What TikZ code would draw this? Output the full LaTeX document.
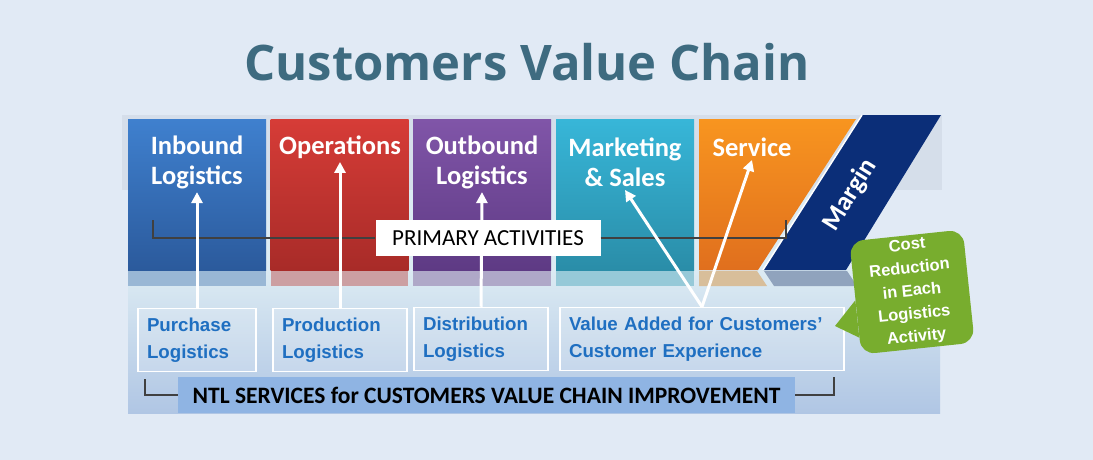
\documentclass[tikz,border=0pt]{standalone}
\usepackage{fontspec}
\setmainfont{Carlito}
\newfontfamily\titlefont{Open Sans}
\newfontfamily\arialfont{Liberation Sans}
\usetikzlibrary{arrows.meta,calc}

\definecolor{pagebg}{HTML}{E1EAF5}
\definecolor{bandgray}{HTML}{D5DEEA}
\definecolor{paneltop}{HTML}{DCEBF3}
\definecolor{panelbot}{HTML}{B0C6E4}
\definecolor{titleblue}{HTML}{3E6B80}
\definecolor{inbtop}{HTML}{3F80CE}
\definecolor{inbbot}{HTML}{2B5A9C}
\definecolor{optop}{HTML}{D63C37}
\definecolor{opbot}{HTML}{A82B28}
\definecolor{outtop}{HTML}{8055A8}
\definecolor{outbot}{HTML}{5E3A84}
\definecolor{mkttop}{HTML}{37B6D8}
\definecolor{mktbot}{HTML}{2A8DA8}
\definecolor{svctop}{HTML}{F8951F}
\definecolor{svcbot}{HTML}{E06F1E}
\definecolor{margblue}{HTML}{0B2E78}
\definecolor{ntlblue}{HTML}{8FB4E3}
\definecolor{subblue}{HTML}{1F6FC1}
\definecolor{callgreen}{HTML}{78AD2E}
\definecolor{bracketgray}{HTML}{404040}

\begin{document}
\begin{tikzpicture}[x=1pt,y=-1pt]

        \fill[pagebg] (0,0) rectangle (1093,460);
        \useasboundingbox (0,0) rectangle (1093,460);

        \node[font=\titlefont\bfseries\fontsize{49}{56}\selectfont, text=titleblue] (title) at (527,62) {Customers Value Chain};

        % panel behind the chain
        \fill[bandgray] (122,115) rectangle (942,190);
        \fill[paneltop] (128,190) rectangle (850,270);
        \shade[top color=paneltop, bottom color=panelbot] (128,270) rectangle (940,413);

        % primary activities
        \begin{scope}[every node/.style={rectangle, minimum width=138, minimum height=151, inner sep=0}]
          \node[top color=inbtop, bottom color=inbbot] (inb) at (197,195) {};
          \node[top color=optop, bottom color=opbot]   (ops) at (339.5,195) {};
          \node[top color=outtop, bottom color=outbot] (out) at (482,195) {};
          \node[top color=mkttop, bottom color=mktbot] (mkt) at (625,195) {};
        \end{scope}
        \shade[top color=svctop, bottom color=svcbot] (699,119) -- (856,119) -- (758,270) -- (699,270) -- cycle;
        \fill[margblue] (862,115) -- (941,115) -- (846,270) -- (763,270) -- cycle;
        \draw[white, line width=1.5] (862,115) -- (763,270);

        % reflections
        \fill[inbtop!40!paneltop!85!gray] (128,271) rectangle (266,286);
        \fill[optop!40!paneltop!85!gray]  (271,271) rectangle (408,286);
        \fill[outtop!40!paneltop!85!gray] (413,271) rectangle (551,286);
        \fill[mkttop!40!paneltop!85!gray] (556,271) rectangle (694,286);
        \fill[svctop!40!paneltop!85!gray] (699,271) -- (757,271) -- (767,286) -- (699,286) -- cycle;
        \fill[margblue!35!paneltop!85!gray] (764,271) -- (847,271) -- (857,286) -- (774,286) -- cycle;

        \begin{scope}[every node/.style={text=white, font=\bfseries\fontsize{26.5}{30}\selectfont, align=center}]
          \node (inbtxt) at (197,162) {Inbound\\Logistics};
          \node (opstxt) at (340,147) {Operations};
          \node (outtxt) at (482,162) {Outbound\\Logistics};
          \node (mkttxt) at (625,162) {Marketing\\\& Sales};
          \node (svctxt) at (752,147) {Service};
          \node[rotate=58, inner sep=0] (margtxt) at (850,195) {Margin};
        \end{scope}

        % primary activities bracket
        \node[fill=white, minimum width=225, minimum height=36, font=\fontsize{23}{26}\selectfont] (pa) at (488,238) {PRIMARY ACTIVITIES};
        \coordinate (pal) at (153,220);
        \coordinate (par) at (786,220);
        \draw[bracketgray, line width=2] (pal) |- (pa.west);
        \draw[bracketgray, line width=2] (pa.east) -| (par);

        % logistics services
        \begin{scope}[every node/.style={draw=white, line width=1.5, fill=white, fill opacity=0.15, text opacity=1, minimum height=63, text=subblue, font=\arialfont\bfseries\fontsize{18.7}{27}\selectfont, align=left, inner xsep=9}]
          \node[text width=100] (pur) at (197,340) {Purchase\\Logistics};
          \node[text width=116] (pro) at (340,340) {Production\\Logistics};
          \node[text width=116] (dis) at (481,339) {Distribution\\Logistics};
          \node[text width=266] (val) at (702,339) {Value Added for Customers’\\Customer Experience};
        \end{scope}

        \begin{scope}[every path/.style={draw=white, line width=3, -{Triangle[width=11pt,length=11pt]}}]
          \path (pur.north) -- (inbtxt.south);
          \path (pro.north) -- (opstxt.south);
          \path (dis.north) -- (outtxt.south);
          \path (val.north) -- (mkttxt.south);
          \path (val.north) -- (svctxt.south);
        \end{scope}

        % bottom bracket
        \node[fill=ntlblue, minimum width=617, minimum height=36, font=\bfseries\fontsize{23.5}{26}\selectfont] (ntl) at (486.5,395) {NTL SERVICES for CUSTOMERS VALUE CHAIN IMPROVEMENT};
        \coordinate (ntll) at (145,379);
        \coordinate (ntlr) at (834,377);
        \draw[bracketgray, line width=2] (ntll) |- (ntl.west);
        \draw[bracketgray, line width=2] (ntl.east) -| (ntlr);

        % callout
        \node[fill=callgreen, rounded corners=14, rotate=6, minimum width=114, minimum height=110, text=white, font=\arialfont\bfseries\fontsize{16.5}{23}\selectfont, align=center] (cost) at (912,292) {Cost\\Reduction\\in Each\\Logistics\\Activity};
        \coordinate (tip) at (835,326);
        \fill[callgreen] ($(cost.north west)!0.52!(cost.south west)$) -- (tip) -- ($(cost.north west)!0.85!(cost.south west)$) -- cycle;

      \end{tikzpicture}
\end{document}
